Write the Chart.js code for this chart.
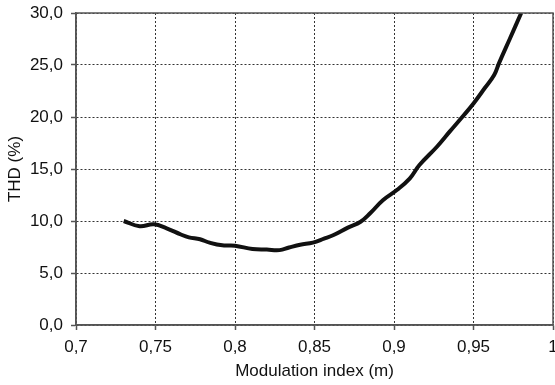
<!DOCTYPE html>
<html>
<head>
<meta charset="utf-8">
<script src="https://cdn.jsdelivr.net/npm/chart.js@4.4.1/dist/chart.umd.min.js"></script>
<style>
  html, body { margin: 0; padding: 0; background: #fff; }
  #wrap { width: 555px; height: 385px; }
</style>
</head>
<body>
<div id="wrap"><canvas id="thdChart"></canvas></div>
<script>
// modulation index (x) and THD in % (y)
const modIndex = [0.730, 0.740, 0.749, 0.757, 0.766, 0.771, 0.778, 0.784, 0.792, 0.800,
                  0.811, 0.820, 0.828, 0.834, 0.841, 0.849, 0.856, 0.862, 0.871, 0.879,
                  0.885, 0.893, 0.902, 0.910, 0.916, 0.927, 0.935, 0.944, 0.950, 0.957,
                  0.963, 0.966, 0.973, 0.980];
const thd      = [10.0, 9.5, 9.68, 9.3, 8.7, 8.43, 8.24, 7.92, 7.66, 7.63,
                  7.3, 7.25, 7.2, 7.45, 7.72, 7.92, 8.3, 8.65, 9.36, 9.93,
                  10.74, 12.0, 13.0, 14.1, 15.38, 17.14, 18.59, 20.19, 21.3, 22.76,
                  24.04, 25.16, 27.57, 30.0];

const xTicks = [0.7, 0.75, 0.8, 0.85, 0.9, 0.95, 1];
const yTicks = [0, 5, 10, 15, 20, 25, 30];

const axisColor = '#555';
const gridColor = '#333';
const tickFont = { family: 'Liberation Sans, Arial, sans-serif', size: 17 };

// solid frame round the plot area (top and right edges)
const frame = {
    id: 'frame',
    afterDraw(chart) {
        const a = chart.chartArea;
        const c = chart.ctx;
        c.save();
        c.strokeStyle = axisColor;
        c.lineWidth = 1.5;
        c.strokeRect(a.left, a.top, a.right - a.left, a.bottom - a.top);
        c.restore();
    }
};

const points = modIndex.map((m, i) => ({ x: m, y: thd[i] }));

new Chart(document.getElementById('thdChart'), {
    type: 'line',
    data: {
        datasets: [{
            label: 'THD',
            data: points,
            borderColor: '#111',
            borderWidth: 4,
            pointRadius: 0,
            tension: 0.4,
            fill: false
        }]
    },
    options: {
        responsive: true,
        maintainAspectRatio: false,
        animation: false,
        layout: { padding: { top: 13, right: 2, left: 0, bottom: 0 } },
        plugins: { legend: { display: false }, tooltip: { enabled: false } },
        scales: {
            x: {
                type: 'linear',
                min: 0.7,
                max: 1,
                afterBuildTicks: (s) => { s.ticks = xTicks.map(v => ({ value: v })); },
                afterFit: (s) => {
                    s.height = 60;
                    s.paddingLeft = 0;
                    s.paddingRight = 0;
                },
                ticks: {
                    color: '#111',
                    font: tickFont,
                    padding: 7,
                    maxRotation: 0,
                    callback: (v) => String(Number(v.toFixed(2))).replace('.', ',')
                },
                grid: {
                    color: gridColor,
                    lineWidth: 1,
                    tickLength: 5,
                    tickColor: axisColor,
                    tickWidth: 1.5,
                    tickBorderDash: []
                },
                border: { color: axisColor, width: 1.5, dash: [2, 2] },
                title: {
                    display: true,
                    text: 'Modulation index (m)',
                    color: '#111',
                    font: tickFont,
                    padding: { top: 0, bottom: 3 }
                }
            },
            y: {
                min: 0,
                max: 30,
                afterBuildTicks: (s) => { s.ticks = yTicks.map(v => ({ value: v })); },
                afterFit: (s) => {
                    s.width = 76;
                    s.paddingTop = 0;
                    s.paddingBottom = 0;
                },
                ticks: {
                    color: '#111',
                    font: tickFont,
                    padding: 8,
                    callback: (v) => v.toFixed(1).replace('.', ',')
                },
                grid: {
                    color: gridColor,
                    lineWidth: 1,
                    tickLength: 5,
                    tickColor: axisColor,
                    tickWidth: 1.5,
                    tickBorderDash: []
                },
                border: { color: axisColor, width: 1.5, dash: [2, 2] },
                title: {
                    display: true,
                    text: 'THD (%)',
                    color: '#111',
                    font: tickFont,
                    padding: { top: 5, bottom: 0 }
                }
            }
        }
    },
    plugins: [frame]
});
</script>
</body>
</html>
